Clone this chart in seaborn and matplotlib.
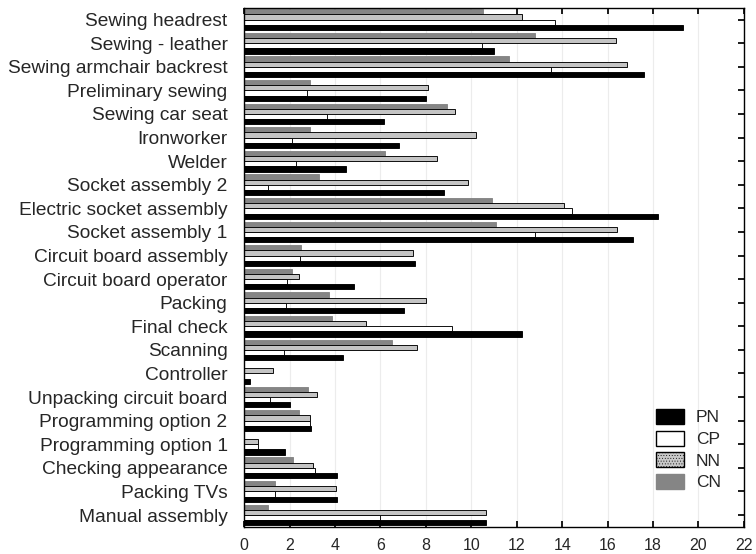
import matplotlib
matplotlib.use("Agg")
import matplotlib.pyplot as plt
import seaborn as sns
import pandas as pd
from matplotlib.patches import Patch

categories = [
    "Sewing headrest", "Sewing - leather", "Sewing armchair backrest",
    "Preliminary sewing", "Sewing car seat", "Ironworker", "Welder",
    "Socket assembly 2", "Electric socket assembly", "Socket assembly 1",
    "Circuit board assembly", "Circuit board operator", "Packing",
    "Final check", "Scanning", "Controller", "Unpacking circuit board",
    "Programming option 2", "Programming option 1", "Checking appearance",
    "Packing TVs", "Manual assembly",
]
cn = [10.5, 12.8, 11.65, 2.9, 8.95, 2.9, 6.2, 3.3, 10.9, 11.1, 2.5,
      2.1, 3.75, 3.85, 6.5, 0.0, 2.8, 2.4, 0.0, 2.15, 1.35, 1.05]
nn = [12.25, 16.35, 16.85, 8.1, 9.3, 10.2, 8.5, 9.85, 14.1, 16.4, 7.45,
      2.4, 8.0, 5.35, 7.6, 1.25, 3.2, 2.9, 0.6, 3.05, 4.05, 10.65]
cp = [13.7, 10.45, 13.5, 2.75, 3.65, 2.1, 2.3, 1.05, 14.45, 12.8, 2.45,
      1.9, 1.85, 9.15, 1.75, 0.0, 1.15, 2.9, 0.6, 3.1, 1.35, 6.0]
pn = [19.3, 11.0, 17.6, 8.0, 6.15, 6.8, 4.5, 8.8, 18.2, 17.1, 7.5,
      4.85, 7.05, 12.25, 4.35, 0.25, 2.0, 2.95, 1.8, 4.1, 4.1, 10.65]
series = {"CN": cn, "NN": nn, "CP": cp, "PN": pn}
x_ticks = list(range(0, 23, 2))

df = pd.DataFrame(
    [(c, s, v) for s, vals in series.items() for c, v in zip(categories, vals)],
    columns=["task", "group", "value"],
)

sns.set_theme(style="white")
plt.rcParams["font.family"] = ["Liberation Sans", "DejaVu Sans"]
plt.rcParams["hatch.color"] = "#a0a0a0"
plt.rcParams["hatch.linewidth"] = 0.3

fig = plt.figure(figsize=(7.56, 5.54), dpi=100)
ax = fig.add_axes([0.323, 0.049, 0.661, 0.937])

sns.barplot(data=df, x="value", y="task", hue="group",
            hue_order=["CN", "NN", "CP", "PN"], order=categories,
            orient="h", width=0.88, ax=ax, legend=False)

# per-series fill / edge, seaborn palette is overridden bar by bar
styles = {
    "CN": ("#858585", "#858585"),
    "NN": ("#c4c4c4", "black"),
    "CP": ("white", "black"),
    "PN": ("black", "black"),
}
for name, cont in zip(["CN", "NN", "CP", "PN"], ax.containers):
    face, edge = styles[name]
    for bar in cont:
        bar.set_facecolor(face)
        bar.set_edgecolor(edge)
        bar.set_linewidth(0.65)

ax.set_xlim(0, 22)
ax.set_xticks(x_ticks)
ax.set_xlabel("")
ax.set_ylabel("")
ax.xaxis.grid(True, color="#ececec", linewidth=0.8)
ax.set_axisbelow(True)

ax.tick_params(axis="x", direction="in", top=True, bottom=True, length=4,
               labelsize=11.5, pad=8, color="black")
ax.tick_params(axis="y", direction="in", left=False, right=True, length=4,
               labelsize=13.8, pad=12, color="black")
for sp in ax.spines.values():
    sp.set_color("black")
    sp.set_linewidth(1.0)

handles = [
    Patch(facecolor="black", edgecolor="black", label="PN"),
    Patch(facecolor="white", edgecolor="black", label="CP"),
    Patch(facecolor="#c8c8c8", edgecolor="black", hatch="......", label="NN"),
    Patch(facecolor="#858585", edgecolor="#858585", label="CN"),
]
ax.legend(handles=handles, loc="lower right", bbox_to_anchor=(0.985, 0.04),
          frameon=False, fontsize=12.5, handlelength=1.6, handleheight=0.95,
          labelspacing=0.3, handletextpad=0.7)

fig.savefig("out.png", dpi=100)
